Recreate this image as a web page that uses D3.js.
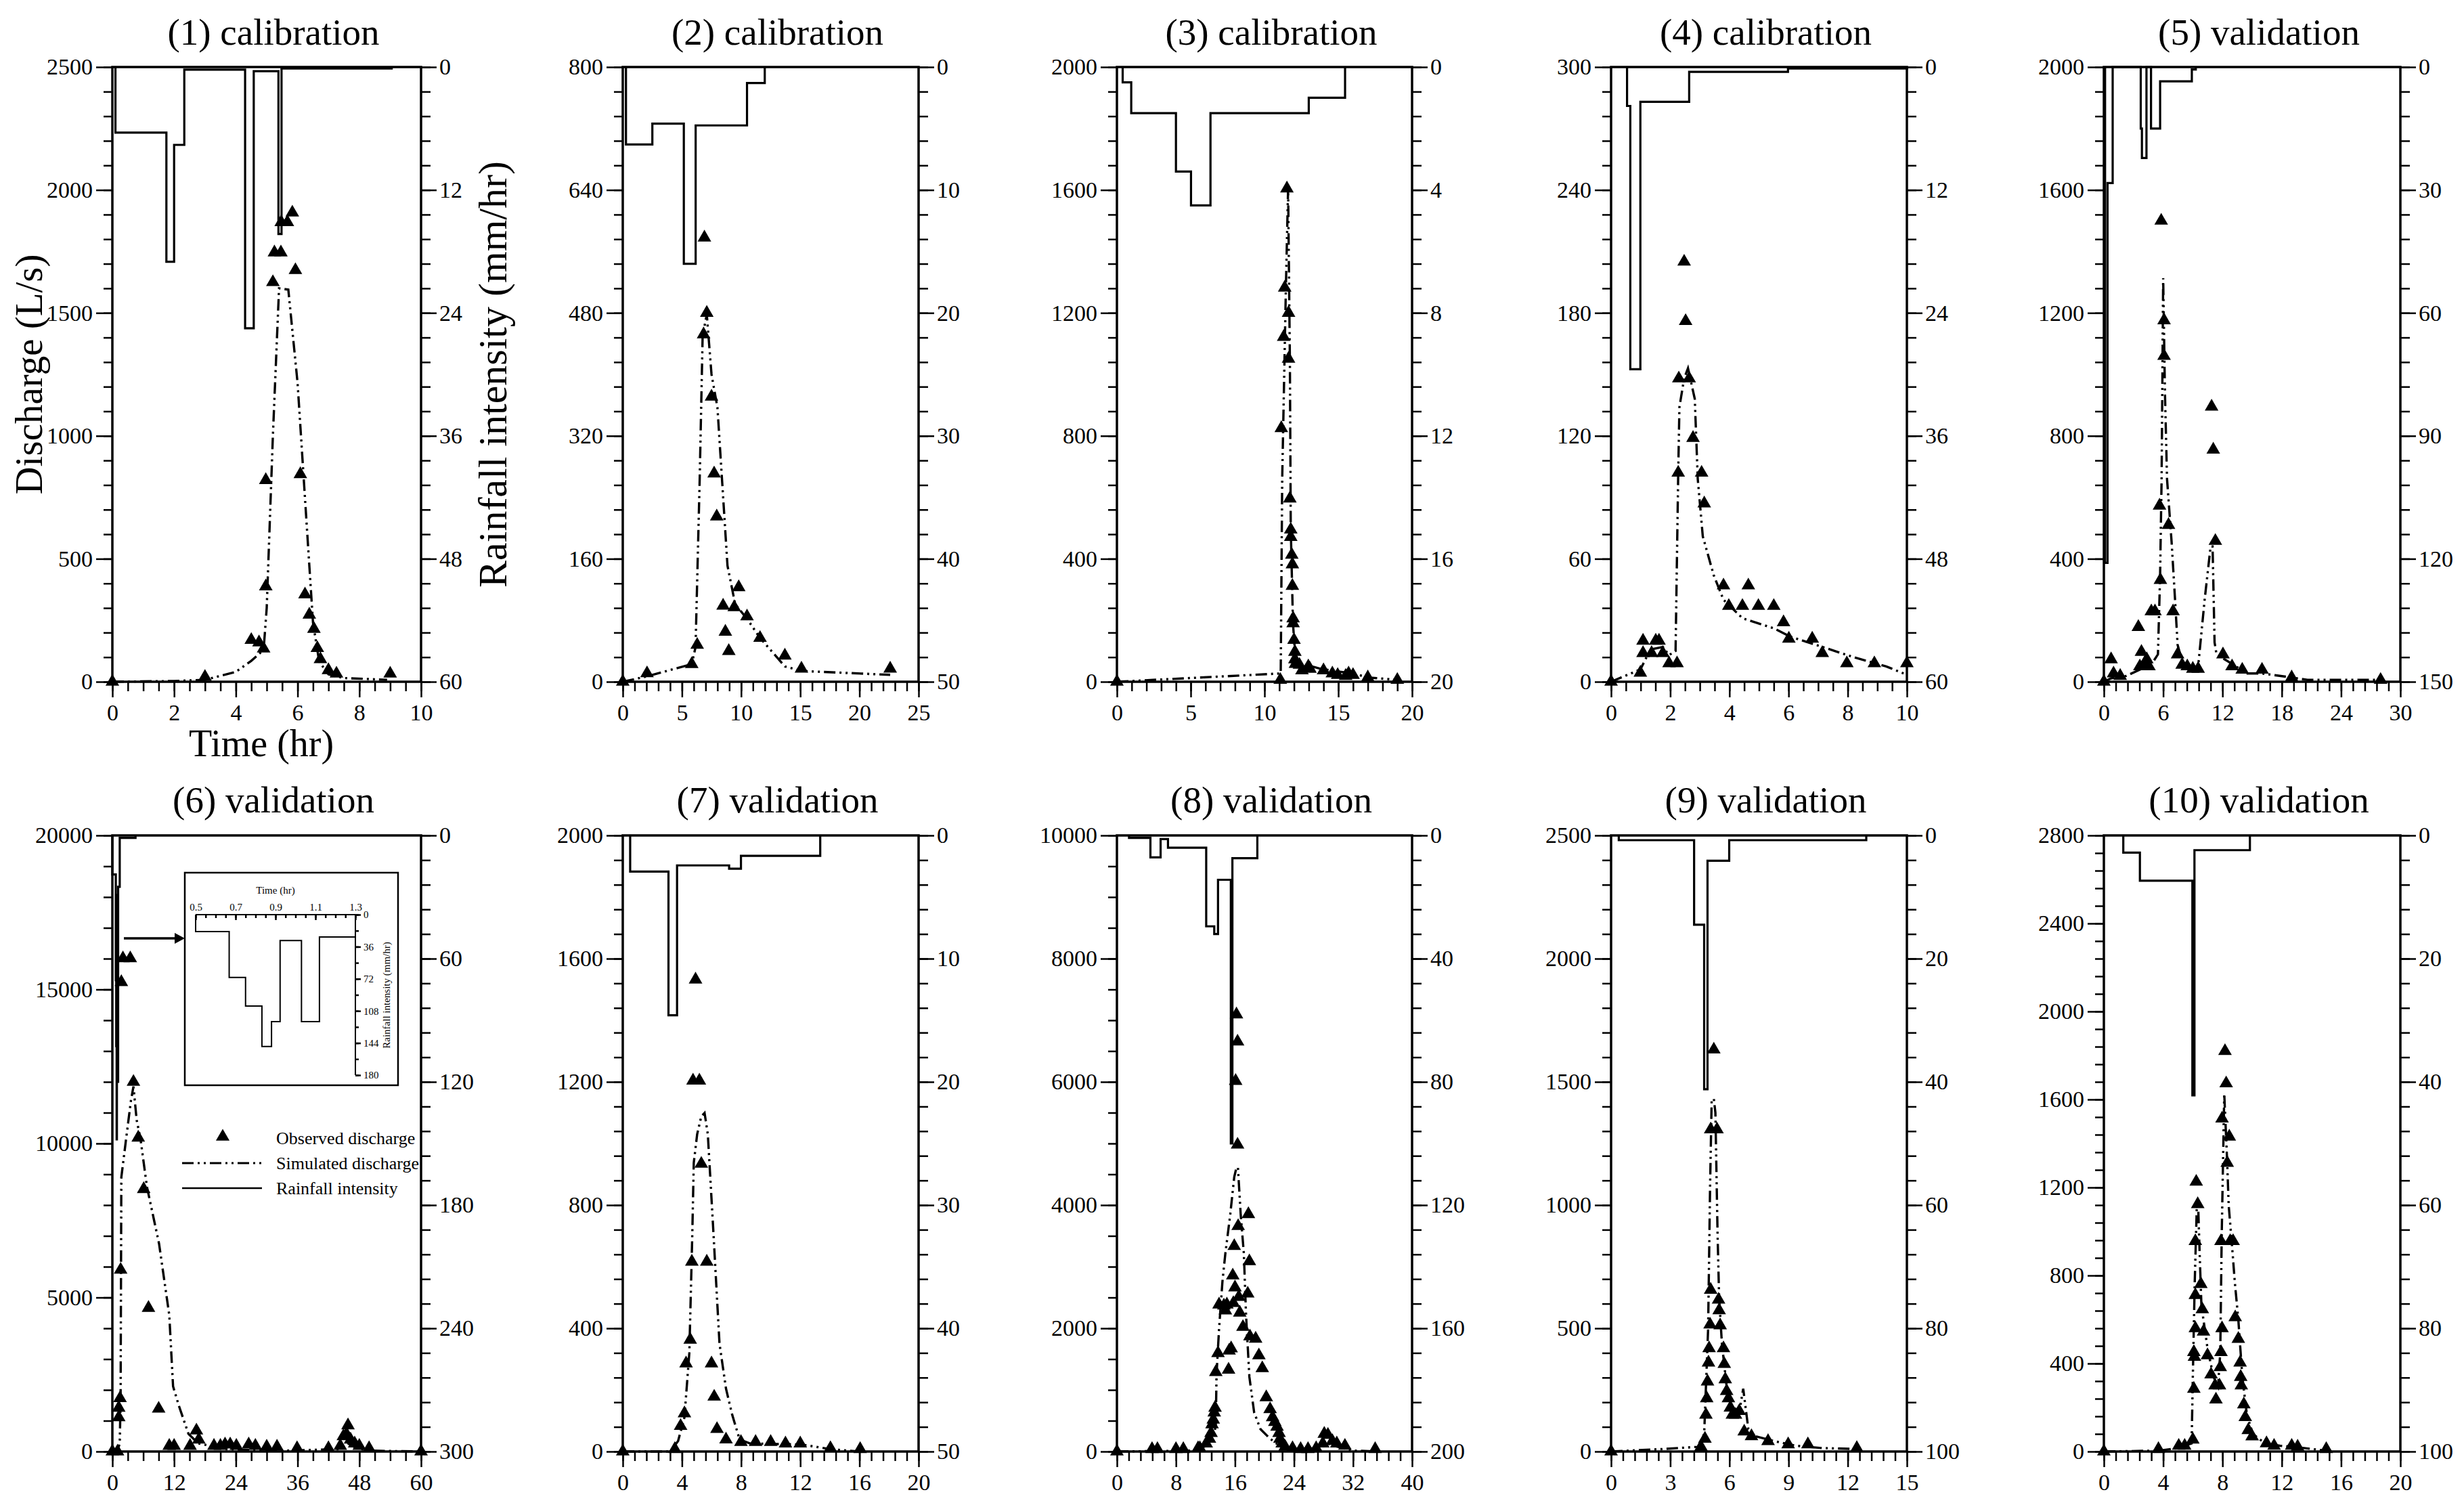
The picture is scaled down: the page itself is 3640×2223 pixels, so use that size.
<!DOCTYPE html>
<html>
<head>
<meta charset="utf-8">
<script src="https://cdn.jsdelivr.net/npm/d3@7"></script>
<style>
  body { margin: 0; background: #fff; }
  text { font-family: "Liberation Serif", "Times New Roman", serif; fill: #000; }
</style>
</head>
<body>
<div id="display"></div>
<script>
// panel settings
var titles = ["(1) calibration", "(2) calibration", "(3) calibration", "(4) calibration", "(5) validation",
    "(6) validation", "(7) validation", "(8) validation", "(9) validation", "(10) validation"];
var tMax = [10, 25, 20, 10, 30, 60, 20, 40, 15, 20];
var tStep = [2, 5, 5, 2, 6, 12, 4, 8, 3, 4];
var tMinor = [0.5, 1, 1, 0.5, 1.2, 3, 0.8, 1.6, 0.6, 0.8];
var qMax = [2500, 800, 2000, 300, 2000, 20000, 2000, 10000, 2500, 2800];
var qStep = [500, 160, 400, 60, 400, 5000, 400, 2000, 500, 400];
var qMinor = [100, 32, 80, 12, 80, 1000, 80, 500, 100, 80];
var rMax = [60, 50, 20, 60, 150, 300, 50, 200, 100, 100];
var rStep = [12, 10, 4, 12, 30, 60, 10, 40, 20, 20];
var rMinor = [2.4, 2, 0.8, 2.4, 6, 12, 2, 8, 4, 4];

// observed discharge [time, L/s]
var obs1 = [[0, 0], [3.0, 20], [4.5, 170], [4.75, 160], [4.9, 135], [4.97, 388], [4.97, 820], [5.2, 1625], [5.25, 1746], [5.46, 1746],
    [5.47, 1869], [5.67, 1869], [5.83, 1908], [5.93, 1674], [6.09, 844], [6.24, 355], [6.38, 273], [6.53, 215], [6.64, 137],
    [6.74, 92], [7.0, 47], [7.26, 33], [9.0, 33]];
var obs2 = [[0, 0], [2.05, 11], [5.83, 23], [6.29, 48], [6.83, 452], [7.1, 480], [6.9, 578], [7.5, 371], [7.72, 271], [7.94, 215],
    [8.48, 99], [8.67, 65], [8.96, 40], [9.42, 97], [9.8, 123], [10.5, 85], [11.6, 57], [13.7, 34], [15.1, 17], [22.6, 17]];
var obs3 = [[0, 0], [11.07, 6], [11.14, 825], [11.3, 1122], [11.37, 1282], [11.52, 1605], [11.63, 1200], [11.63, 1051], [11.72, 596],
    [11.78, 495], [11.78, 471], [11.85, 413], [11.89, 382], [11.89, 312], [11.94, 206], [11.94, 190], [12.0, 136], [12.06, 97],
    [12.06, 73], [12.1, 58], [12.37, 55], [12.54, 37], [12.97, 50], [13.08, 42], [14.0, 37], [14.6, 27], [14.96, 22], [15.5, 19],
    [15.7, 27], [16.0, 22], [17.0, 14], [19.0, 6]];
var obs4 = [[0, 0], [0.99, 4.4], [1.08, 20], [1.08, 14], [1.37, 14], [1.51, 20], [1.62, 20], [1.75, 14], [1.96, 9], [2.23, 9],
    [2.27, 102], [2.29, 148], [2.64, 148], [2.47, 205], [2.52, 176], [2.77, 119], [3.06, 102], [3.15, 87], [3.8, 47], [3.98, 37],
    [4.44, 37], [4.64, 47], [4.98, 37], [5.5, 37], [5.83, 29], [6.01, 21], [6.8, 21], [7.14, 14], [7.97, 9], [8.9, 9], [10.0, 9]];
var obs5 = [[0, 0], [0.73, 73], [0.98, 27], [1.65, 19], [3.49, 178], [3.64, 50], [3.8, 97], [4.1, 58], [4.34, 73], [4.56, 50],
    [4.8, 229], [5.17, 229], [5.63, 573], [5.72, 331], [5.8, 1500], [6.09, 1176], [6.09, 1060], [6.54, 510], [7.0, 229], [7.46, 89],
    [7.92, 55], [8.44, 50], [9.0, 42], [9.54, 42], [10.9, 895], [11.07, 755], [11.28, 458], [12.05, 89], [12.97, 50], [14.0, 39],
    [16.0, 39], [19.0, 14], [28.0, 6]];
var obs6 = [[0, 0], [1.0, 0], [1.24, 1110], [1.24, 1420], [1.49, 1730], [1.61, 5900], [1.74, 15240], [2.05, 16010], [3.48, 16010],
    [4.1, 12000], [5.03, 10190], [6.09, 8520], [7.02, 4660], [9.0, 1390], [11.06, 185], [12.0, 185], [15.1, 185], [16.34, 680],
    [16.8, 386], [19.75, 185], [21.0, 185], [21.9, 230], [22.9, 230], [24.1, 185], [26.5, 230], [27.8, 185], [30.0, 155], [32.0, 155],
    [35.9, 108], [42.0, 108], [44.3, 185], [44.9, 494], [45.5, 570], [45.8, 850], [46.3, 386], [47.1, 262], [48.0, 185], [49.9, 108], [60, 0]];
var obs7 = [[0, 0], [3.52, 8], [3.91, 83], [4.17, 124], [4.28, 286], [4.56, 363], [4.67, 616], [4.75, 1204], [4.92, 1532], [5.18, 1204],
    [5.31, 934], [5.68, 616], [6.0, 286], [6.18, 178], [6.37, 73], [6.98, 39], [7.99, 31], [8.98, 31], [10.0, 31], [11.0, 26],
    [12.0, 26], [14.04, 11], [16.05, 8]];
var obs8 = [[0, 0], [4.76, 39], [5.49, 39], [8.0, 39], [9.0, 39], [11.0, 54], [11.24, 54], [12.1, 131], [12.54, 208], [12.76, 301],
    [12.89, 440], [13.06, 517], [13.19, 633], [13.3, 710], [13.4, 1290], [13.7, 1598], [13.84, 2385], [14.5, 2370], [14.7, 2290],
    [14.9, 2385], [15.13, 1328], [15.2, 1637], [15.48, 1675], [15.7, 2857], [15.78, 2409], [15.9, 3335], [16.0, 2663], [16.09, 6014],
    [16.2, 7095], [16.35, 6654], [16.35, 4980], [16.43, 3659], [16.52, 2509], [16.65, 2254], [17.08, 2022], [17.73, 2563],
    [17.82, 3853], [17.95, 3088], [18.03, 1868], [18.8, 1830], [19.24, 1560], [19.7, 1351], [20.24, 880], [20.76, 687], [21.1, 556],
    [21.4, 479], [21.7, 402], [21.97, 301], [22.1, 208], [22.4, 131], [22.8, 77], [23.8, 54], [24.9, 39], [25.9, 39], [27.0, 54],
    [27.9, 131], [28.1, 286], [28.6, 270], [29.2, 170], [29.8, 131], [30.9, 93], [35.0, 39]];
var obs9 = [[0, 0], [4.56, 19], [4.76, 52], [4.81, 149], [4.85, 216], [4.89, 284], [4.94, 361], [4.97, 419], [5.02, 515], [5.05, 656],
    [5.05, 1307], [5.21, 1631], [5.37, 1307], [5.45, 616], [5.48, 573], [5.53, 512], [5.7, 419], [5.74, 355], [5.79, 293], [5.86, 245],
    [5.95, 216], [6.05, 178], [6.15, 149], [6.31, 149], [6.5, 164], [6.75, 81], [7.12, 62], [7.96, 42], [8.98, 29], [9.98, 29], [12.46, 14]];
var obs10 = [[0, 0], [3.68, 11], [5.05, 26], [5.45, 26], [6.0, 54], [6.07, 285], [6.11, 430], [6.07, 452], [6.17, 560], [6.17, 711],
    [6.17, 956], [6.23, 1226], [6.33, 1124], [6.54, 761], [6.64, 646], [6.72, 545], [6.99, 437], [7.23, 350], [7.5, 300], [7.56, 236],
    [7.8, 300], [7.85, 383], [7.9, 452], [7.97, 560], [7.9, 956], [7.97, 1513], [8.17, 1820], [8.25, 1673], [8.32, 1312], [8.46, 1431],
    [8.52, 956], [8.72, 956], [8.86, 610], [9.07, 512], [9.19, 404], [9.23, 339], [9.27, 300], [9.44, 214], [9.54, 156], [9.74, 97],
    [10.0, 69], [10.97, 37], [11.48, 26], [12.67, 26], [13.07, 22], [15.0, 11]];

// simulated discharge [time, L/s]
var sim1 = [[0, 0], [2, 3], [3, 8], [4, 40], [4.5, 85], [4.9, 130], [5.0, 300], [5.2, 1000], [5.4, 1600], [5.7, 1595], [6.0, 1215],
    [6.5, 240], [6.7, 82], [7.0, 30], [7.5, 15], [8.9, 8]];
var sim2 = [[0, 0], [2.05, 7], [5.83, 23], [6.15, 45], [6.5, 263], [6.75, 450], [7.1, 478], [7.5, 400], [8.0, 357], [8.85, 151],
    [9.5, 101], [10.5, 82], [11.6, 57], [13.7, 20], [15.1, 14], [22.6, 9]];
var sim3 = [[0, 0], [11.1, 27], [11.2, 660], [11.45, 1282], [11.6, 1605], [11.72, 1050], [11.78, 500], [11.93, 190], [12.1, 73],
    [12.3, 62], [13.8, 42], [14.9, 34], [16, 27], [17, 14], [19, 6]];
var sim4 = [[0, 0], [0.99, 6], [1.2, 12], [1.42, 16], [1.75, 17], [1.96, 13], [2.18, 15], [2.27, 102], [2.31, 134], [2.47, 148],
    [2.6, 153], [2.83, 138], [2.93, 99], [3.1, 71], [3.47, 52], [3.8, 40], [4.44, 31], [5.52, 26], [6.06, 22], [7.14, 17], [8.2, 12],
    [9.3, 7.5], [9.9, 4]];
var sim5 = [[0, 0], [0.73, 11], [2.26, 19], [3.8, 42], [5.0, 66], [5.47, 89], [5.69, 347], [5.84, 659], [6.0, 1313], [6.18, 940],
    [6.39, 660], [6.85, 456], [7.2, 268], [7.46, 120], [8.07, 50], [9.3, 42], [9.54, 50], [10.2, 268], [10.8, 440], [11.0, 440],
    [11.2, 128], [11.4, 89], [12.97, 58], [14.5, 27], [16, 27], [19, 14], [20.6, 6], [28, 6]];
var sim6 = [[0, 0], [1.0, 30], [1.43, 260], [1.6, 1650], [1.74, 8900], [2.67, 10150], [3.6, 11380], [4.1, 11850], [4.72, 10760],
    [5.47, 10150], [6.71, 8600], [9.07, 6750], [11.06, 4430], [11.8, 2115], [12.9, 1500], [14.8, 570], [16.7, 262], [19.1, 185],
    [21.6, 77], [34, 30], [44, 77], [45.8, 262], [47.1, 140], [49.6, 30], [60, 0]];
var sim7 = [[0, 0], [3.2, 0], [3.74, 34], [4.17, 111], [4.5, 320], [4.7, 705], [4.8, 937], [5.03, 1030], [5.31, 1088], [5.53, 1099],
    [5.75, 1030], [6.1, 736], [6.54, 350], [6.98, 204], [7.4, 119], [7.9, 39], [8.6, 26], [12.05, 23], [14, 8], [16, 0]];
var sim8 = [[0, 0], [10.4, 15], [13.0, 131], [13.4, 440], [13.5, 1250], [13.84, 1985], [14.3, 2757], [14.7, 3220], [15.35, 3838],
    [15.9, 4455], [16.2, 4610], [16.4, 4610], [16.78, 3838], [17.2, 3220], [17.5, 2216], [17.95, 1212], [18.6, 633], [19.46, 363],
    [20.76, 208], [22.05, 93], [23.35, 39], [27.7, 54], [28.5, 131], [29.4, 93], [32, 15], [35.5, 0]];
var sim9 = [[0, 0], [2.6, 10], [4.4, 19], [4.72, 71], [4.92, 496], [5.02, 1075], [5.1, 1423], [5.21, 1432], [5.29, 1375], [5.4, 882],
    [5.48, 622], [5.62, 438], [5.86, 264], [6.18, 168], [6.5, 158], [6.7, 255], [6.96, 91], [7.31, 62], [8.28, 42], [9.42, 23],
    [10.7, 14], [12.46, 10]];
var sim10 = [[0, 0], [3.72, 4], [4.94, 15], [5.92, 37], [6.0, 339], [6.13, 772], [6.27, 1118], [6.37, 1096], [6.47, 880], [6.58, 664],
    [6.99, 469], [7.4, 339], [7.7, 296], [7.85, 448], [7.95, 988], [8.12, 1626], [8.32, 1312], [8.42, 1118], [8.62, 956], [8.83, 772],
    [9.07, 599], [9.34, 339], [9.65, 166], [10.05, 80], [10.87, 37], [11.88, 26], [12.7, 22], [15, 4]];

// rainfall: step edges (hr) and intensity (mm/hr) between them
var rain1T = [0.1, 1.75, 2.0, 2.33, 4.3, 4.58, 5.38, 5.48, 9.05];
var rain1V = [6.4, 19, 7.6, 0.25, 25.5, 0.4, 16.3, 0.15];
var rain2T = [0.27, 2.5, 5.16, 6.16, 10.5, 12.0];
var rain2V = [6.3, 4.6, 16.0, 4.75, 1.3];
var rain3T = [0.39, 0.97, 4.0, 5.02, 6.34, 13.0, 15.46];
var rain3V = [0.5, 1.5, 3.4, 4.5, 1.5, 1.0];
var rain4T = [0.54, 0.65, 0.99, 2.64, 5.98, 10];
var rain4V = [3.8, 29.5, 3.4, 0.47, 0.14];
var rain5T = [0.12, 0.37, 0.89, 3.73, 3.85, 4.31, 4.77, 5.69, 8.9, 9.3];
var rain5V = [121, 28.3, 0, 15, 22.2, 0, 15, 3.5, 0.6];
var rain6T = [0, 0.668, 0.75, 0.832, 0.88, 0.923, 1.03, 1.12, 1.43, 4.5];
var rain6V = [19, 70.5, 102.6, 148, 120, 29, 120, 25, 1.2];
var rain7T = [0.5, 3.09, 3.67, 7.19, 7.99, 13.35];
var rain7V = [2.93, 14.6, 2.43, 2.7, 1.66];
var rain8T = [1.64, 4.54, 5.92, 6.92, 12.1, 13.19, 13.7, 15.44, 15.65, 19.03];
var rain8V = [0.8, 7.1, 1.2, 4.0, 29.5, 32, 14.4, 100, 7.4];
var rain9T = [0.39, 4.21, 4.72, 4.89, 5.99, 12.94];
var rain9V = [0.77, 14.5, 41.2, 4.1, 0.77];
var rain10T = [1.31, 2.43, 5.97, 6.11, 9.85];
var rain10V = [2.78, 7.34, 42.2, 2.39];

var obsAll = [obs1, obs2, obs3, obs4, obs5, obs6, obs7, obs8, obs9, obs10];
var simAll = [sim1, sim2, sim3, sim4, sim5, sim6, sim7, sim8, sim9, sim10];
var rainTAll = [rain1T, rain2T, rain3T, rain4T, rain5T, rain6T, rain7T, rain8T, rain9T, rain10T];
var rainVAll = [rain1V, rain2V, rain3V, rain4V, rain5V, rain6V, rain7V, rain8V, rain9V, rain10V];

// inset (panel 6)
var insetT = [0.5, 1.3];
var insetTicksT = [0.5, 0.7, 0.9, 1.1, 1.3];
var insetTicksR = [0, 36, 72, 108, 144, 180];

var legendLabels = ["Observed discharge", "Simulated discharge", "Rainfall intensity"];

// layout
var width = 3640, height = 2223;
var colL = [166, 920, 1650, 2380, 3108],
    colR = [622, 1357, 2086, 2817, 3546];
var rowT = [99, 1234],
    rowB = [1007, 2144];
var serif = '"Liberation Serif", "Times New Roman", serif';
var simDash = "17,6,3,6,3,6";
var triSize = 175;

var svg = d3.select("#display")
    .append("svg")
    .attr("width", width)
    .attr("height", height)
    .style("background", "#fff");

var line = d3.line();

function vals(max, step) {
    return d3.range(0, Math.round(max / step) + 1).map(function (k) { return +(k * step).toFixed(6); });
}

// step outline of the rain bars, limited to [a, b]
function stepPoints(T, V, a, b) {
    var pts = [];
    var last = null;
    pts.push([Math.max(T[0], a), 0]);
    for (var k = 0; k < V.length; k++) {
        var s = Math.max(T[k], a), e = Math.min(T[k + 1], b);
        if (e <= s) continue;
        pts.push([s, V[k]], [e, V[k]]);
        last = e;
    }
    if (T[T.length - 1] <= b) pts.push([last, 0]);
    return pts;
}

function addAxis(gen, scale, values, size, pad, fmt, tx, ty, fs) {
    var a = gen(scale).tickValues(values).tickSize(size).tickSizeOuter(0).tickPadding(pad);
    a.tickFormat(fmt ? fmt : function () { return ""; });
    var ga = svg.append("g")
        .attr("transform", "translate(" + tx + "," + ty + ")")
        .call(a);
    ga.attr("font-family", serif).attr("font-size", fs || 34);
    ga.select(".domain").remove();
    ga.selectAll("line").attr("stroke", "#000").attr("stroke-width", 2.5);
    ga.selectAll("text").attr("fill", "#000");
    return ga;
}

function drawPanel(i) {
    var col = i % 5, row = Math.floor(i / 5);
    var x0 = colL[col], x1 = colR[col], y0 = rowT[row], y1 = rowB[row];

    var x = d3.scaleLinear().domain([0, tMax[i]]).range([x0, x1]);
    var q = d3.scaleLinear().domain([0, qMax[i]]).range([y1, y0]);
    var r = d3.scaleLinear().domain([0, rMax[i]]).range([y0, y1]);

    var g = svg.append("g");

    // rainfall steps
    g.append("path")
        .attr("d", line(stepPoints(rainTAll[i], rainVAll[i], 0, tMax[i]).map(function (p) { return [x(p[0]), r(p[1])]; })))
        .attr("fill", "none")
        .attr("stroke", "#000")
        .attr("stroke-width", 3.2);

    // simulated
    g.append("path")
        .attr("d", line(simAll[i].map(function (p) { return [x(p[0]), q(p[1])]; })))
        .attr("fill", "none")
        .attr("stroke", "#000")
        .attr("stroke-width", 3.4)
        .attr("stroke-dasharray", simDash);

    // observed
    g.selectAll(".obs")
        .data(obsAll[i])
        .enter()
        .append("path")
        .attr("class", "obs")
        .attr("d", d3.symbol().type(d3.symbolTriangle).size(triSize))
        .attr("transform", function (d) { return "translate(" + x(d[0]) + "," + q(d[1]) + ")"; })
        .attr("fill", "#000");

    // frame
    g.append("rect")
        .attr("x", x0).attr("y", y0)
        .attr("width", x1 - x0).attr("height", y1 - y0)
        .attr("fill", "none")
        .attr("stroke", "#000")
        .attr("stroke-width", 3.5);

    var fmt = d3.format("d");
    // left
    addAxis(d3.axisLeft, q, vals(qMax[i], qMinor[i]), 13, 5, null, x0, 0);
    addAxis(d3.axisLeft, q, vals(qMax[i], qStep[i]), 24, 5, fmt, x0, 0);
    // right
    addAxis(d3.axisRight, r, vals(rMax[i], rMinor[i]), 14, 4, null, x1, 0);
    addAxis(d3.axisRight, r, vals(rMax[i], rStep[i]), 23, 4, fmt, x1, 0);
    // bottom
    addAxis(d3.axisBottom, x, vals(tMax[i], tMinor[i]), 14, 10, null, 0, y1);
    addAxis(d3.axisBottom, x, vals(tMax[i], tStep[i]), 23, 10, fmt, 0, y1);

    svg.append("text")
        .attr("x", (x0 + x1) / 2 + 10)
        .attr("y", row == 0 ? 66 : 1200)
        .attr("text-anchor", "middle")
        .attr("font-size", 55)
        .text(titles[i]);
}

for (var i = 0; i < 10; i++) { drawPanel(i); }

// axis titles (panel 1)
svg.append("text")
    .attr("transform", "translate(45,553) rotate(-90)")
    .attr("text-anchor", "middle")
    .attr("dy", "0.3em")
    .attr("font-size", 57)
    .text("Discharge (L/s)");
svg.append("text")
    .attr("transform", "translate(730,553) rotate(-90)")
    .attr("text-anchor", "middle")
    .attr("dy", "0.3em")
    .attr("font-size", 60)
    .text("Rainfall intensity (mm/hr)");
svg.append("text")
    .attr("x", 386).attr("y", 1117)
    .attr("text-anchor", "middle")
    .attr("font-size", 56)
    .text("Time (hr)");

// inset of panel 6
var ix = d3.scaleLinear().domain(insetT).range([289, 525]);
var iy = d3.scaleLinear().domain([0, 180]).range([1351, 1588]);

svg.append("rect")
    .attr("x", 273).attr("y", 1289)
    .attr("width", 315).attr("height", 314)
    .attr("fill", "#fff")
    .attr("stroke", "#000")
    .attr("stroke-width", 2.5);

svg.append("path")
    .attr("d", line(stepPoints(rain6T, rain6V, insetT[0], insetT[1]).map(function (p) { return [ix(p[0]), iy(p[1])]; })))
    .attr("fill", "none")
    .attr("stroke", "#000")
    .attr("stroke-width", 2);

addAxis(d3.axisTop, ix, vals(0.8, 0.05).map(function (v) { return +(v + 0.5).toFixed(3); }), -5, 6, null, 0, 1351, 15);
addAxis(d3.axisTop, ix, insetTicksT, -8, 6, d3.format(".1f"), 0, 1351, 15);
addAxis(d3.axisRight, iy, vals(180, 18), 5, 4, null, 525, 0, 15);
addAxis(d3.axisRight, iy, insetTicksR, 8, 4, d3.format("d"), 525, 0, 15);
svg.append("line").attr("x1", 289).attr("x2", 525).attr("y1", 1351).attr("y2", 1351)
    .attr("stroke", "#000").attr("stroke-width", 2);
svg.append("line").attr("x1", 525).attr("x2", 525).attr("y1", 1351).attr("y2", 1588)
    .attr("stroke", "#000").attr("stroke-width", 2);
svg.append("text")
    .attr("x", 407).attr("y", 1320)
    .attr("text-anchor", "middle")
    .attr("font-size", 15)
    .text("Time (hr)");
svg.append("text")
    .attr("transform", "translate(571,1470) rotate(-90)")
    .attr("text-anchor", "middle")
    .attr("dy", "0.3em")
    .attr("font-size", 15)
    .text("Rainfall intensity (mm/hr)");

// arrow to inset
svg.append("line")
    .attr("x1", 183).attr("x2", 260).attr("y1", 1386).attr("y2", 1386)
    .attr("stroke", "#000").attr("stroke-width", 3.5);
svg.append("path")
    .attr("d", "M258,1378L273,1386L258,1394Z")
    .attr("fill", "#000");

// legend
var lg = svg.append("g");
lg.append("path")
    .attr("d", d3.symbol().type(d3.symbolTriangle).size(triSize))
    .attr("transform", "translate(329,1679)")
    .attr("fill", "#000");
lg.append("line")
    .attr("x1", 269).attr("x2", 387).attr("y1", 1718).attr("y2", 1718)
    .attr("stroke", "#000").attr("stroke-width", 3)
    .attr("stroke-dasharray", simDash);
lg.append("line")
    .attr("x1", 269).attr("x2", 387).attr("y1", 1755).attr("y2", 1755)
    .attr("stroke", "#000").attr("stroke-width", 2.5);
lg.selectAll(".lt")
    .data(legendLabels)
    .enter()
    .append("text")
    .attr("class", "lt")
    .attr("x", 408)
    .attr("y", function (d, k) { return 1681 + k * 37; })
    .attr("dy", "0.33em")
    .attr("font-size", 26)
    .text(function (d) { return d; });
</script>
</body>
</html>
